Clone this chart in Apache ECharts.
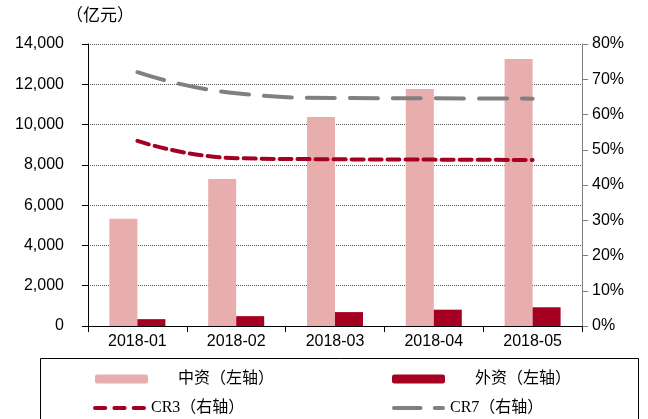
<!DOCTYPE html>
<html>
<head>
<meta charset="utf-8">
<script src="https://cdn.jsdelivr.net/npm/echarts@6/dist/echarts.min.js"></script>
<style>
html, body { margin: 0; padding: 0; background: #fff; }
#main { width: 648px; height: 419px; }
</style>
</head>
<body>
<div id="main"></div>
<script>
var months = ['2018-01', '2018-02', '2018-03', '2018-04', '2018-05'];
var domestic = [5330, 7300, 10370, 11770, 13250];
var foreign = [340, 490, 690, 810, 930];
var cr3 = [52.5, 47.6, 47.3, 47.2, 47.1];
var cr7 = [72.0, 66.0, 64.7, 64.6, 64.5];

var sansFont = 'Liberation Sans, Arial, sans-serif';
var legendFont = 'Liberation Serif, Noto Sans CJK SC, serif';

// dashed legend swatches for the two line series
var cr3Icon = 'path://M2,0h10a2,2 0 0 1 0,4h-10a2,2 0 0 1 0,-4z M21,0h10a2,2 0 0 1 0,4h-10a2,2 0 0 1 0,-4z M40,0h10a2,2 0 0 1 0,4h-10a2,2 0 0 1 0,-4z';
var cr7Icon = 'path://M2,0h26a2,2 0 0 1 0,4h-26a2,2 0 0 1 0,-4z M42,0h8a2,2 0 0 1 0,4h-8a2,2 0 0 1 0,-4z';

var chart = echarts.init(document.getElementById('main'));

function oneLegend(name, left, top, pad, icon, h) {
    var item = { name: name };
    if (icon) item.icon = icon;
    return {
        data: [item],
        left: left,
        top: top,
        itemWidth: 53,
        itemHeight: h,
        padding: 0,
        textStyle: {
            fontFamily: legendFont,
            fontSize: 16,
            color: '#000',
            padding: [0, 0, 0, pad]
        }
    };
}

var option = {
    animation: false,
    backgroundColor: '#fff',
    grid: { left: 88, right: 66, top: 44, bottom: 93 },
    graphic: [{
        type: 'rect',
        shape: { x: 40.5, y: 358.5, width: 598, height: 80 },
        style: { fill: 'none', stroke: '#000', lineWidth: 1 }
    }, {
        type: 'text',
        left: 66,
        top: 6,
        style: {
            text: '（亿元）',
            fontFamily: 'Noto Sans CJK SC',
            fontSize: 17,
            fill: '#000'
        }
    }],
    legend: [
        oneLegend('中资（左轴）', 95, 371, 25, null, 9),
        oneLegend('外资（左轴）', 392, 371, 25, null, 9),
        oneLegend('CR3（右轴）', 93, 400, 0, cr3Icon, 5),
        oneLegend('CR7（右轴）', 392, 400, 0, cr7Icon, 5)
    ],
    xAxis: {
        type: 'category',
        data: months,
        boundaryGap: true,
        axisLine: { lineStyle: { color: '#000', width: 1 } },
        axisTick: { show: true, length: 6, lineStyle: { color: '#000' } },
        axisLabel: { fontFamily: sansFont, fontSize: 16, color: '#000', margin: 8 }
    },
    yAxis: [{
        type: 'value',
        min: 0,
        max: 14000,
        interval: 2000,
        axisLine: { show: true, lineStyle: { color: '#000' } },
        axisTick: { show: true, length: 6, lineStyle: { color: '#000' } },
        axisLabel: {
            fontFamily: sansFont, fontSize: 16, color: '#000', margin: 24,
            formatter: function(v) { return v.toLocaleString('en-US'); }
        },
        splitLine: { show: true, lineStyle: { color: '#555', type: 'dotted', width: 1 } }
    }, {
        type: 'value',
        min: 0,
        max: 80,
        interval: 10,
        position: 'right',
        axisLine: { show: true, lineStyle: { color: '#808080' } },
        axisTick: { show: true, length: 6, lineStyle: { color: '#808080' } },
        axisLabel: {
            fontFamily: sansFont, fontSize: 16, color: '#000', margin: 10,
            formatter: '{value}%'
        },
        splitLine: { show: false }
    }],
    series: [{
        name: '中资（左轴）',
        type: 'bar',
        data: domestic,
        barWidth: 28,
        barGap: '0%',
        itemStyle: { color: '#E8ADAD' }
    }, {
        name: '外资（左轴）',
        type: 'bar',
        data: foreign,
        barWidth: 28,
        barGap: '0%',
        itemStyle: { color: '#A50021' }
    }, {
        name: 'CR3（右轴）',
        type: 'line',
        yAxisIndex: 1,
        data: cr3,
        smooth: true,
        symbol: 'none',
        lineStyle: { color: '#A50021', width: 4, type: [12, 6], cap: 'round' },
        itemStyle: { color: '#A50021' }
    }, {
        name: 'CR7（右轴）',
        type: 'line',
        yAxisIndex: 1,
        data: cr7,
        smooth: true,
        symbol: 'none',
        lineStyle: { color: '#808080', width: 4, type: [28, 15], cap: 'round' },
        itemStyle: { color: '#808080' }
    }]
};

chart.setOption(option);
</script>
</body>
</html>
